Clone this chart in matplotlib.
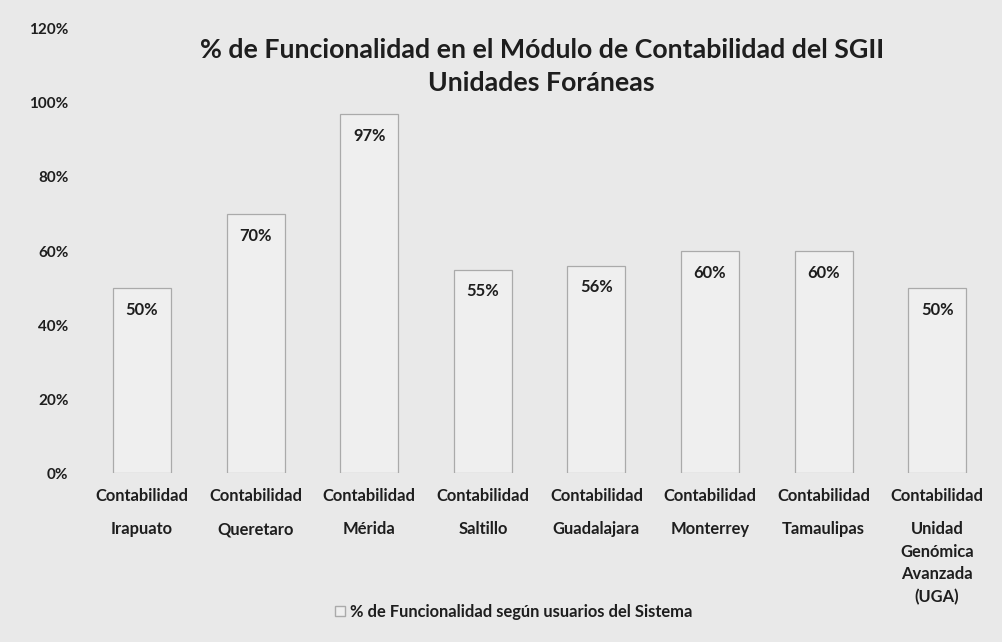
import matplotlib
matplotlib.use("Agg")
import matplotlib.pyplot as plt
from matplotlib.patches import Patch
from matplotlib.transforms import blended_transform_factory

categories = [
    "Contabilidad\nIrapuato",
    "Contabilidad\nQueretaro",
    "Contabilidad\nMérida",
    "Contabilidad\nSaltillo",
    "Contabilidad\nGuadalajara",
    "Contabilidad\nMonterrey",
    "Contabilidad\nTamaulipas",
    "Contabilidad\nUnidad\nGenómica\nAvanzada\n(UGA)",
]
values = [50, 70, 97, 55, 56, 60, 60, 50]
yticks = [0, 20, 40, 60, 80, 100, 120]
ytick_labels = ["0%", "20%", "40%", "60%", "80%", "100%", "120%"]
title = "% de Funcionalidad en el Módulo de Contabilidad del SGII\nUnidades Foráneas"
legend_label = "% de Funcionalidad según usuarios del Sistema"

plt.rcParams["font.family"] = ["Lato", "DejaVu Sans"]
bg = "#e9e9e9"
txt = "#1e1e1e"
fs = 11.9
fig = plt.figure(figsize=(10.03, 6.42), dpi=100, facecolor=bg)
ax = fig.add_axes([0.085, 0.263, 0.906, 0.692])
ax.set_facecolor(bg)

x = list(range(len(values)))
bars = ax.bar(x, values, width=0.51, color="#efefef", edgecolor="#aaaaaa", linewidth=0.9)
ax.set_ylim(0, 120)
ax.set_xlim(-0.5, len(values) - 0.5)
ax.set_yticks(yticks)
ax.set_yticklabels(ytick_labels, fontsize=11, fontweight="bold", color=txt)
for s in ax.spines.values():
    s.set_visible(False)
ax.tick_params(axis="both", length=0)
ax.tick_params(axis="y", pad=12)

first_lines = [c.split("\n", 1)[0] for c in categories]
rest_lines = [c.split("\n", 1)[1] for c in categories]
ax.set_xticks(x)
ax.set_xticklabels(first_lines, fontsize=fs, fontweight="bold", color=txt)
ax.tick_params(axis="x", pad=11)
trans = blended_transform_factory(ax.transData, ax.transAxes)
for xi, r in zip(x, rest_lines):
    ax.text(xi, -0.108, r, transform=trans, ha="center", va="top",
            fontsize=fs, fontweight="bold", color=txt, linespacing=1.5)

for b, v in zip(bars, values):
    ax.annotate(f"{v}%", (b.get_x() + b.get_width() / 2, v), xytext=(0, -15.5),
                textcoords="offset points", ha="center", va="center",
                fontsize=fs, fontweight="bold", color=txt)

fig.text(0.54, 0.896, title, ha="center", va="center", fontsize=19.3,
         fontweight="bold", color=txt, linespacing=1.45)

leg = fig.legend(handles=[Patch(facecolor="#efefef", edgecolor="#aaaaaa", label=legend_label)],
                 loc="center", bbox_to_anchor=(0.512, 0.047), frameon=False,
                 fontsize=fs, handlelength=0.6, handleheight=0.6, handletextpad=0.3)
for t in leg.get_texts():
    t.set_fontweight("bold")
    t.set_color(txt)

fig.savefig("out.png", dpi=100, facecolor=bg)
